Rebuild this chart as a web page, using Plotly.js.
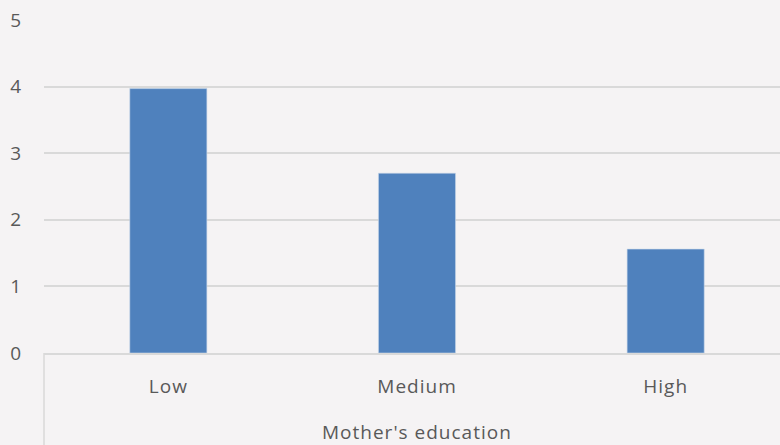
<!DOCTYPE html>
<html>
<head>
<meta charset="utf-8">
<script src="https://cdn.plot.ly/plotly-3.0.1.min.js"></script>
<style>
html,body{margin:0;padding:0;overflow:hidden;background:#f5f3f4;}
#chart{width:790px;height:445px;}
#chart text{letter-spacing:1px;}
</style>
</head>
<body>
<div id="chart"></div>
<script>
const categories = ["Low", "Medium", "High"];
const values = [3.97, 2.70, 1.56];
const yTicks = [0, 1, 2, 3, 4, 5];
const xTitle = "Mother's education";

const font = {family: "'Open Sans', Lato, sans-serif", color: "#595959", size: 19};

const trace = {
  type: "bar",
  x: categories,
  y: values,
  marker: {color: "#4f81bd", line: {color: "#c9d6ea", width: 0.6}},
  hoverinfo: "x+y"
};

const layout = {
  width: 790,
  height: 445,
  margin: {l: 44, r: 0, t: 20, b: 92},
  paper_bgcolor: "#f5f3f4",
  plot_bgcolor: "#f5f3f4",
  font: font,
  bargap: 0.69,
  showlegend: false,
  xaxis: {
    type: "category",
    showgrid: false,
    showline: true,
    linecolor: "#d9d9d9",
    linewidth: 1.5,
    ticks: "",
    ticklabelstandoff: 16,
    tickfont: font,
    automargin: false
  },
  yaxis: {
    range: [0, 5],
    tickvals: yTicks,
    showgrid: true,
    gridcolor: "#d9d9d9",
    gridwidth: 1.8,
    zeroline: false,
    showline: false,
    ticks: "",
    ticklabelstandoff: 21,
    tickfont: font,
    automargin: false
  },
  annotations: [{
    text: xTitle, xref: "paper", yref: "paper",
    x: (417 - 44) / 746, y: -(432 - 353) / 333,
    xanchor: "center", yanchor: "middle", showarrow: false,
    font: font
  }],
  shapes: [{
    type: "line", xref: "paper", yref: "paper",
    x0: 0, x1: 0, y0: 0, y1: -0.3,
    line: {color: "#d9d9d9", width: 1.5}
  }]
};

Plotly.newPlot("chart", [trace], layout, {displayModeBar: false, staticPlot: true});
</script>
</body>
</html>
